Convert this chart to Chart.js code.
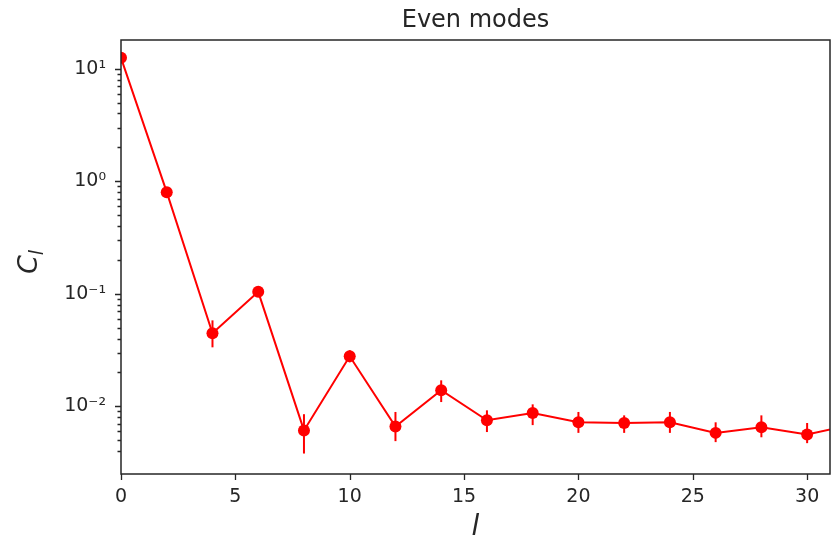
<!DOCTYPE html>
<html>
<head>
<meta charset="utf-8">
<script src="https://cdn.jsdelivr.net/npm/chart.js@4.4.1/dist/chart.umd.min.js"></script>
<style>
  html, body { margin: 0; padding: 0; background: #fff; }
  #wrap { width: 832px; height: 542px; }
</style>
</head>
<body>
<div id="wrap"><canvas id="modes"></canvas></div>
<script>
// multipole l, power C_l and its error range (even modes only)
const ell = [0, 2, 4, 6, 8, 10, 12, 14, 16, 18, 20, 22, 24, 26, 28, 30, 32];
const cl = [12.5, 0.80, 0.0446, 0.104, 0.0061, 0.0278, 0.0066, 0.0139, 0.0075, 0.0087, 0.0072, 0.0071, 0.0072, 0.0058, 0.0065, 0.0056, 0.0069];
const clLow = [11.6, 0.75, 0.0334, 0.098, 0.0038, 0.0246, 0.0049, 0.0109, 0.0059, 0.0068, 0.0058, 0.0058, 0.0058, 0.0048, 0.0053, 0.0047, 0.0057];
const clHigh = [13.5, 0.85, 0.058, 0.110, 0.0085, 0.0315, 0.0089, 0.0170, 0.0092, 0.0104, 0.0089, 0.0083, 0.0089, 0.0072, 0.0083, 0.0071, 0.0083];

const xTicks = [0, 5, 10, 15, 20, 25, 30];
const decades = [0.01, 0.1, 1, 10];
const decadeLabels = ["10\u207B\u00B2", "10\u207B\u00B9", "10\u2070", "10\u00B9"];

const FONT = "'DejaVu Sans', sans-serif";
const INK = "#262626";

function isDecade(v) {
  const e = Math.log10(v);
  return Math.abs(e - Math.round(e)) < 1e-6;
}
function isMinor(v) {
  const m = v / Math.pow(10, Math.floor(Math.log10(v) + 1e-9));
  return Math.abs(m - Math.round(m)) < 1e-6;
}

// frame, tick marks, error bars and the rotated y label
const axesFrame = {
  id: "axesFrame",
  beforeDatasetsDraw(chart) {
    const { ctx, chartArea: a, scales } = chart;
    ctx.save();
    ctx.beginPath();
    ctx.rect(a.left, a.top, a.right - a.left, a.bottom - a.top);
    ctx.clip();
    ctx.strokeStyle = "red";
    ctx.lineWidth = 2;
    ell.forEach((l, i) => {
      const px = scales.x.getPixelForValue(l);
      ctx.beginPath();
      ctx.moveTo(px, scales.y.getPixelForValue(clLow[i]));
      ctx.lineTo(px, scales.y.getPixelForValue(clHigh[i]));
      ctx.stroke();
    });
    ctx.restore();
  },
  afterDatasetsDraw(chart) {
    const { ctx, chartArea: a, scales } = chart;
    ctx.save();
    ctx.strokeStyle = INK;
    ctx.lineWidth = 1.5;
    ctx.strokeRect(a.left, a.top, a.right - a.left, a.bottom - a.top);

    ctx.lineWidth = 1.3;
    ctx.beginPath();
    xTicks.forEach(v => {
      const px = Math.round(scales.x.getPixelForValue(v)) + 0.5;
      ctx.moveTo(px, a.bottom);
      ctx.lineTo(px, a.bottom + 6);
    });
    scales.y.ticks.forEach(t => {
      if (!isMinor(t.value)) return;
      const py = Math.round(scales.y.getPixelForValue(t.value)) + 0.5;
      const len = isDecade(t.value) ? 6 : 3.5;
      ctx.moveTo(a.left, py);
      ctx.lineTo(a.left - len, py);
    });
    ctx.stroke();

    // C_l, read bottom to top
    const cy = (a.top + a.bottom) / 2 + 3;
    ctx.translate(37, cy);
    ctx.rotate(-Math.PI / 2);
    ctx.fillStyle = INK;
    ctx.textBaseline = "alphabetic";
    ctx.textAlign = "left";
    ctx.font = "italic 27px " + FONT;
    const wC = ctx.measureText("C").width;
    ctx.fillText("C", -14, 0);
    ctx.font = "italic 19px " + FONT;
    ctx.fillText("l", -14 + wC, 6);
    ctx.restore();
  }
};

new Chart(document.getElementById("modes"), {
  type: "line",
  data: {
    datasets: [{
      data: ell.map((l, i) => ({ x: l, y: cl[i] })),
      borderColor: "red",
      backgroundColor: "red",
      borderWidth: 2,
      pointRadius: 6,
      pointBorderWidth: 0,
      pointBackgroundColor: "red",
      tension: 0,
      clip: 0
    }]
  },
  options: {
    responsive: true,
    maintainAspectRatio: false,
    animation: false,
    layout: { autoPadding: false, padding: { top: 0, left: 0, right: 2, bottom: 0 } },
    plugins: {
      legend: { display: false },
      tooltip: { enabled: false },
      title: {
        display: true,
        text: "Even modes",
        fullSize: false,
        color: INK,
        font: { family: FONT, size: 24, weight: "normal" },
        padding: { top: 6, bottom: 5.2 }
      }
    },
    scales: {
      x: {
        type: "linear",
        min: 0,
        max: 31,
        grid: { display: false, drawTicks: false },
        border: { display: false },
        afterBuildTicks: s => { s.ticks = xTicks.map(v => ({ value: v })); },
        ticks: {
          padding: 12,
          color: INK,
          font: { family: FONT, size: 19 },
          maxRotation: 0,
          autoSkip: false
        },
        title: {
          display: true,
          text: "l",
          color: INK,
          font: { family: FONT, size: 28, style: "italic", lineHeight: 1 },
          padding: { top: 0, bottom: 0 }
        },
        afterFit: s => { s.height = 68; s.paddingRight = 0; s.paddingLeft = 0; }
      },
      y: {
        type: "logarithmic",
        min: 0.0025,
        max: 18,
        grid: { display: false, drawTicks: false },
        border: { display: false },
        ticks: {
          autoSkip: false,
          padding: 15,
          color: INK,
          font: { family: FONT, size: 19 },
          callback: v => {
            const i = decades.findIndex(d => Math.abs(Math.log10(d) - Math.log10(v)) < 1e-6);
            return i >= 0 ? decadeLabels[i] : "";
          }
        },
        afterFit: s => { s.width = 121; }
      }
    }
  },
  plugins: [axesFrame]
});
</script>
</body>
</html>
